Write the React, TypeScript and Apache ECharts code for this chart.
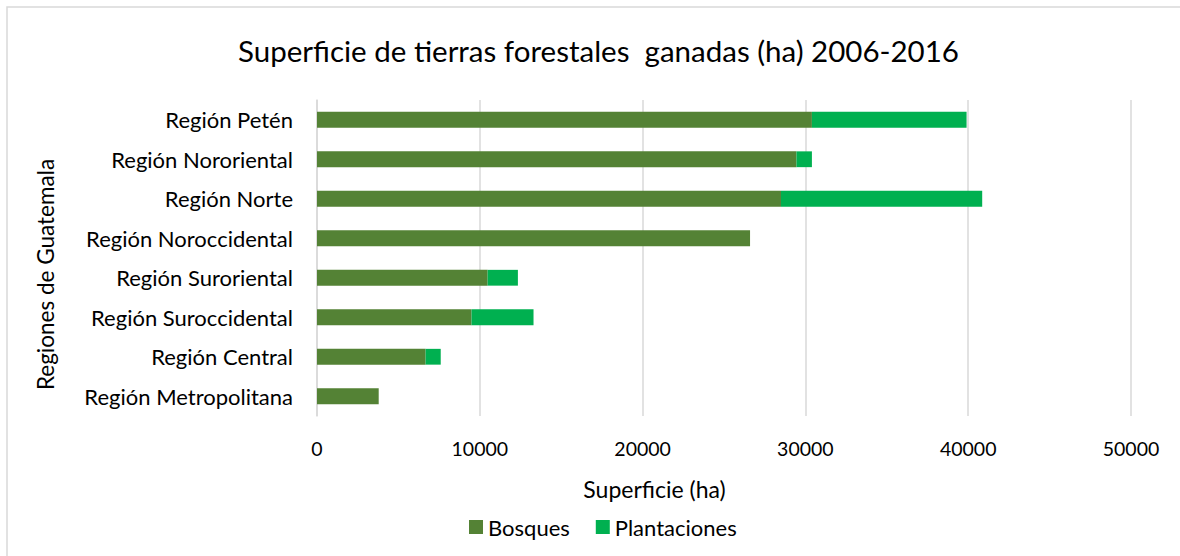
import React, { useEffect, useRef } from "react";
import * as echarts from "echarts";

const categories = [
  "Región Petén",
  "Región Nororiental",
  "Región Norte",
  "Región Noroccidental",
  "Región Suroriental",
  "Región Suroccidental",
  "Región Central",
  "Región Metropolitana",
];
const bosques = [30400, 29450, 28500, 26600, 10480, 9490, 6670, 3790];
const plantaciones = [9500, 950, 12360, 0, 1860, 3810, 930, 0];
const xTicks = [0, 10000, 20000, 30000, 40000, 50000];

const titleText = "Superficie de tierras forestales  ganadas (ha) 2006-2016";
const xName = "Superficie (ha)";
const yName = "Regiones de Guatemala";

const FONT = "Lato, 'Open Sans', sans-serif";

export default function App() {
  const ref = useRef<HTMLDivElement>(null);
  useEffect(() => {
    if (!ref.current) return;
    const chart = echarts.init(ref.current, null, { renderer: "svg" });
    chart.setOption({
      animation: false,
      backgroundColor: "#ffffff",
      textStyle: { fontFamily: FONT },
      graphic: [
        {
          type: "rect",
          shape: { x: 7, y: 7, width: 1200, height: 600 },
          style: { fill: "none", stroke: "#d9d9d9", lineWidth: 1.5 },
          silent: true,
        },
        {
          type: "text",
          x: 598.5,
          y: 50,
          style: {
            text: titleText,
            fontFamily: FONT,
            fontSize: 29.5,
            fill: "#000",
            align: "center",
            verticalAlign: "middle",
          },
          silent: true,
        },
        {
          type: "text",
          x: 654.5,
          y: 489,
          style: {
            text: xName,
            fontFamily: FONT,
            fontSize: 23,
            fill: "#000",
            align: "center",
            verticalAlign: "middle",
          },
          silent: true,
        },
        {
          type: "text",
          x: 45,
          y: 274.5,
          rotation: Math.PI / 2,
          style: {
            text: yName,
            fontFamily: FONT,
            fontSize: 22.5,
            fill: "#000",
            align: "center",
            verticalAlign: "middle",
          },
          silent: true,
        },
      ],
      legend: {
        top: 511,
        left: 464,
        itemWidth: 14,
        itemHeight: 14,
        itemGap: 26,
        icon: "rect",
        textStyle: { fontFamily: FONT, fontSize: 22, color: "#000" },
        data: ["Bosques", "Plantaciones"],
      },
      grid: { left: 317, right: 49, top: 100, bottom: 140, containLabel: false },
      xAxis: {
        type: "value",
        min: xTicks[0],
        max: xTicks[xTicks.length - 1],
        interval: 10000,
        axisLine: { show: false },
        axisTick: { show: false },
        axisLabel: {
          margin: 22,
          fontFamily: FONT,
          fontSize: 19.5,
          color: "#000",
          formatter: (v: number) => String(v),
        },
        splitLine: { show: true, lineStyle: { color: "#d9d9d9", width: 1.5 } },
      },
      yAxis: {
        type: "category",
        inverse: true,
        data: categories,
        axisLine: { show: true, lineStyle: { color: "#d9d9d9", width: 1.5 } },
        axisTick: { show: false },
        axisLabel: { margin: 24, fontFamily: FONT, fontSize: 22, color: "#000" },
      },
      series: [
        {
          name: "Bosques",
          type: "bar",
          stack: "total",
          barWidth: "40%",
          itemStyle: { color: "#548235" },
          data: bosques,
        },
        {
          name: "Plantaciones",
          type: "bar",
          stack: "total",
          barWidth: "40%",
          itemStyle: { color: "#00b050" },
          data: plantaciones,
        },
      ],
    });
    return () => chart.dispose();
  }, []);
  return (
    <div
      ref={ref}
      style={{ position: "fixed", left: 0, top: 0, width: 1180, height: 556 }}
    />
  );
}
